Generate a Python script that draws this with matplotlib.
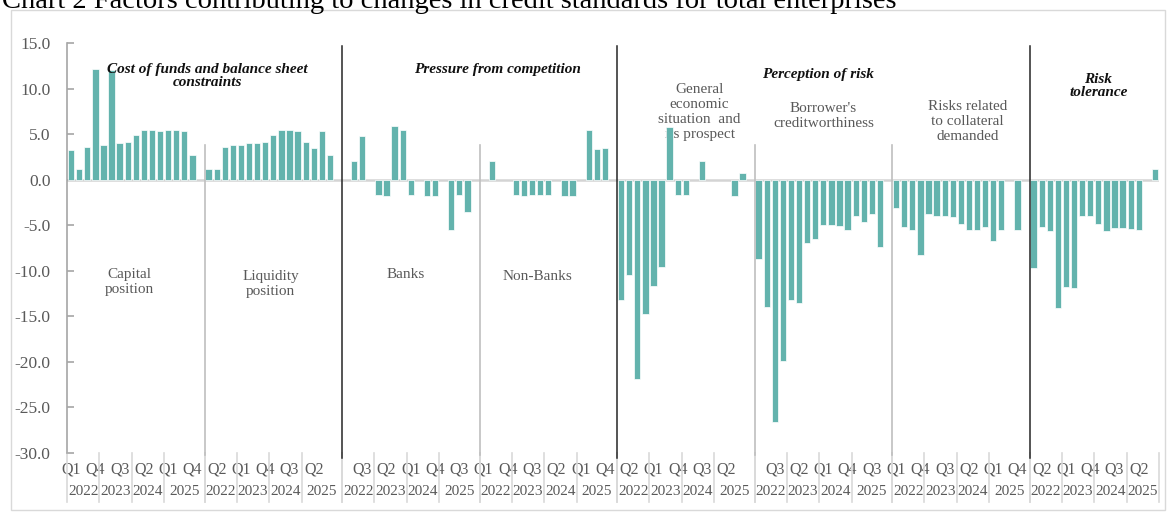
import numpy as np
import matplotlib.pyplot as plt
from matplotlib.transforms import blended_transform_factory
from matplotlib.patches import Rectangle

nan = np.nan

# net percentages per factor, Q1 2022 .. Q4 2025 (blank = not reported)
capital = [3.2, 1.2, 3.6, 12.1, 3.8, 12.0, 4.0, 4.1, 4.9, 5.5, 5.5, 5.3, 5.4, 5.5, 5.3, 2.7]
liquidity = [1.2, 1.2, 3.6, 3.8, 3.8, 4.0, 4.0, 4.1, 4.9, 5.5, 5.5, 5.3, 4.1, 3.5, 5.3, 2.7]
banks = [nan, 2.0, 4.8, nan, -1.7, -1.8, 5.9, 5.5, -1.7, nan, -1.8, -1.8, nan, -5.5, -1.7, -3.5]
non_banks = [nan, 2.0, nan, nan, -1.7, -1.8, -1.7, -1.7, -1.7, nan, -1.8, -1.8, nan, 5.5, 3.4, 3.5]
general = [-13.2, -10.5, -21.9, -14.7, -11.7, -9.6, 5.8, -1.7, -1.7, nan, 2.0, nan, nan, nan, -1.8, 0.7]
creditworthiness = [-8.7, -14.0, -26.6, -19.9, -13.2, -13.5, -7.0, -6.5, -5.0, -5.0, -5.1, -5.5, -4.0, -4.7, -3.8, -7.4]
collateral = [-3.1, -5.2, -5.5, -8.3, -3.8, -4.0, -4.0, -4.1, -4.9, -5.5, -5.5, -5.2, -6.7, -5.5, nan, -5.5]
risk_tolerance = [-9.7, -5.2, -5.6, -14.1, -11.8, -11.9, -4.0, -4.0, -4.9, -5.6, -5.3, -5.3, -5.4, -5.5, nan, 1.2]

series = [capital, liquidity, banks, non_banks, general, creditworthiness, collateral, risk_tolerance]
quarters = ['Q1', 'Q2', 'Q3', 'Q4']
years = ['2022', '2023', '2024', '2025']

sub_labels = ['Capital\nposition', 'Liquidity\nposition', 'Banks', 'Non-Banks',
              'General\neconomic\nsituation  and\nits prospect', "Borrower's\ncreditworthiness",
              'Risks related\nto collateral\ndemanded', None]
headings = ['Cost of funds and balance sheet\nconstraints', 'Pressure from competition',
            'Perception of risk', 'Risk\ntolerance']

plt.rcParams['font.family'] = ['Liberation Serif', 'DejaVu Serif']

GROUP = 17   # 16 quarters + one empty slot between factors
n_groups = len(series)
n_slots = GROUP * (n_groups - 1) + len(series[-1])

fig = plt.figure(figsize=(11.68, 5.19), dpi=100)
ax = fig.add_axes([0.0574, 0.1272, 0.9349, 0.79])

teal = '#63B3AD'
for g, vals in enumerate(series):
    x = g * GROUP + np.arange(len(vals))
    ax.bar(x, vals, width=0.78, color=teal, edgecolor='white', linewidth=0.5, zorder=2)

ax.set_xlim(-0.5, n_slots - 0.5)
ax.set_ylim(-30, 15)
ax.set_yticks(np.arange(-30, 15.1, 5))
ax.set_yticklabels([f'{v:.1f}' for v in np.arange(-30, 15.1, 5)])
ax.axhline(0, color='#D4D4D4', lw=1.8, zorder=1)

for s in ['top', 'right', 'bottom']:
    ax.spines[s].set_visible(False)
ax.spines['left'].set_color('#A6A6A6')
ax.spines['left'].set_linewidth(1.2)
ax.tick_params(axis='y', direction='in', length=5, color='#A6A6A6', width=1.2,
               labelsize=12.5, labelcolor='#595959', pad=12)

# quarter ticks every third slot, skipping the empty ones
ticks = [s for s in range(0, n_slots, 3) if s % GROUP < 16]
ax.set_xticks(ticks)
ax.set_xticklabels([quarters[(s % GROUP) % 4] for s in ticks])
ax.tick_params(axis='x', length=0, labelsize=11.5, labelcolor='#595959', pad=6)

trans = blended_transform_factory(ax.transData, ax.transAxes)
for g, vals in enumerate(series):
    start = g * GROUP
    end = start + (GROUP if g < n_groups - 1 else len(vals))
    bounds = [start, start + 4, start + 8, start + 12, end]
    for k, yr in enumerate(years):
        ax.text((bounds[k] + bounds[k + 1] - 1) / 2, -0.095, yr, transform=trans,
                ha='center', va='center', fontsize=11, color='#595959')
    for b in bounds:
        ax.plot([b - 0.5, b - 0.5], [0, -0.12], transform=trans, color='#D9D9D9',
                lw=1.2, clip_on=False)

# factor dividers: black between main headings, grey inside a heading
for g in range(1, n_groups):
    xb = g * GROUP - 0.5
    if g in (2, 4, 7):
        ax.plot([xb, xb], [14.7, -30.6], color='#262626', lw=1.1, clip_on=False, zorder=3)
    else:
        ax.plot([xb, xb], [3.8, -30.2], color='#BFBFBF', lw=1.2, clip_on=False, zorder=3)

head_style = dict(ha='center', va='center', fontsize=11, fontweight='bold',
                  fontstyle='italic', color='#111111', linespacing=1.05, zorder=4)
ax.text(16.9, 11.4, headings[0], **head_style)
ax.text(52.7, 12.1, headings[1], **head_style)
ax.text(92.3, 11.55, headings[2], **head_style)
ax.text(127.0, 10.3, headings[3], **head_style)

sub_pos = [(7.2, -11.2), (24.7, -11.4), (41.4, -10.4), (57.7, -10.6),
           (77.7, 7.4), (93.0, 7.0), (110.8, 6.4)]
for lab, (xt, yt) in zip(sub_labels, sub_pos):
    ax.text(xt, yt, lab, ha='center', va='center', fontsize=11, color='#595959',
            linespacing=1.2, zorder=1)

fig.text(0.002, 0.985, 'Chart 2 Factors contributing to changes in credit standards for total enterprises',
         ha='left', va='baseline', fontsize=20.5, color='black')

fig.patches.append(Rectangle((11 / 1168, 9 / 519), 1154 / 1168, 500 / 519,
                             transform=fig.transFigure, fill=False,
                             edgecolor='#D9D9D9', lw=1.0))

fig.savefig('out.png', dpi=100)
